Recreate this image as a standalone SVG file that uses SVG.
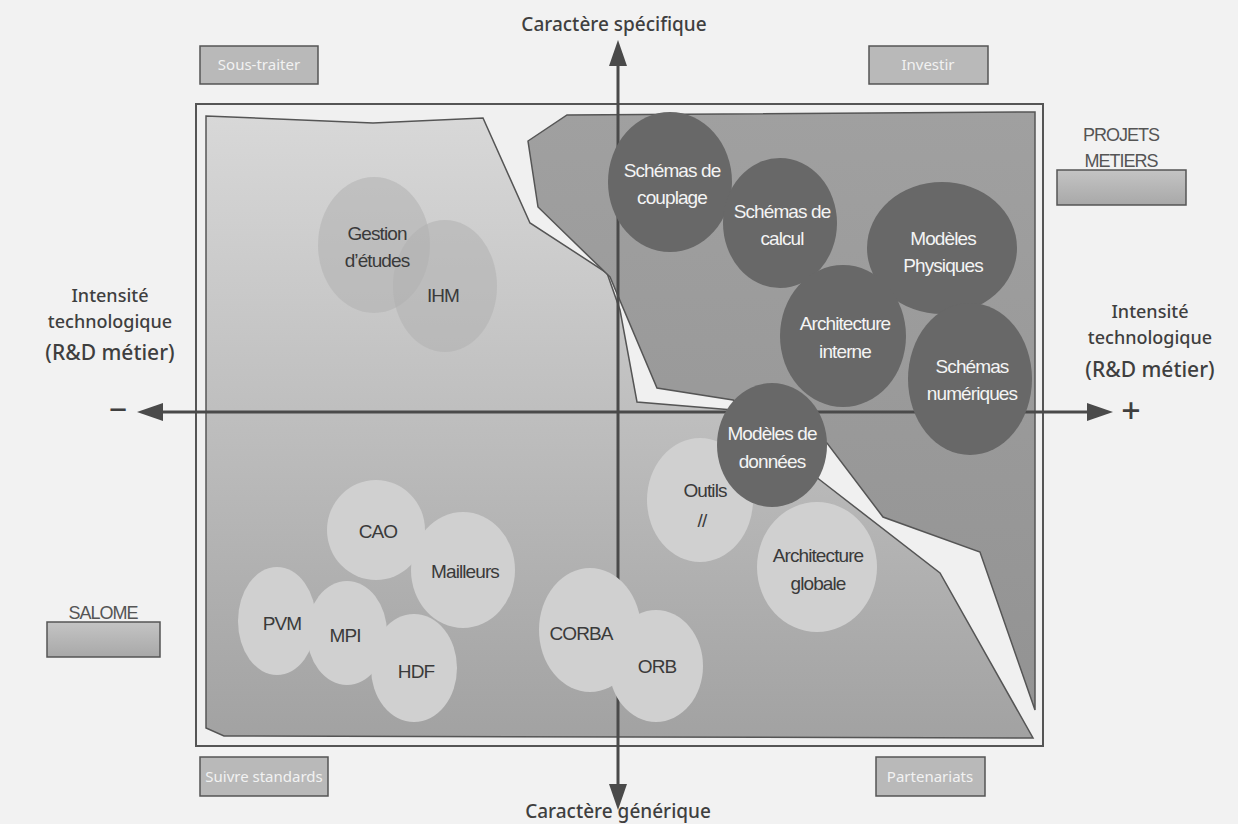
<svg xmlns="http://www.w3.org/2000/svg" width="1238" height="824" viewBox="0 0 1238 824">
<defs>
<style>
.bg{fill:#f2f2f2}
.frame{fill:#f0f0f0;stroke:#555;stroke-width:2}
.dk{fill:#686868}
.lt{fill:#d0d0d0}
.md{fill:#b0b0b0;fill-opacity:0.55}
.tw{font-family:"Liberation Sans",Arial,sans-serif;font-size:19px;fill:#f4f4f4;text-anchor:middle;letter-spacing:-0.9px}
.tb{font-family:"Liberation Sans",Arial,sans-serif;font-size:19px;fill:#3a3a3a;text-anchor:middle;letter-spacing:-0.9px}
.ax{font-family:"Noto Sans",sans-serif;font-size:19px;fill:#3f3f3f;text-anchor:middle;font-weight:500}
.side{font-family:"Noto Sans",sans-serif;font-size:18px;fill:#3f3f3f;text-anchor:middle;font-weight:500}
.big{font-size:21px}
.box{fill:#b9b9b9;stroke:#555;stroke-width:1.5}
.boxt{font-family:"Noto Sans",sans-serif;font-size:15px;fill:#f2f2f2;text-anchor:middle}
.leg{fill:url(#gleg);stroke:#555;stroke-width:1.5}
.legt{font-family:"Liberation Sans",Arial,sans-serif;font-size:18px;fill:#555;text-anchor:middle;letter-spacing:-1px}
.axis{stroke:#4a4a4a;stroke-width:3;fill:none}
.head{fill:#4a4a4a}
</style>
<linearGradient id="glight" gradientUnits="userSpaceOnUse" x1="0" y1="116" x2="0" y2="738">
<stop offset="0" stop-color="#d8d8d8"/>
<stop offset="0.45" stop-color="#c0c0c0"/>
<stop offset="1" stop-color="#a2a2a2"/>
</linearGradient>
<linearGradient id="gdark" gradientUnits="userSpaceOnUse" x1="0" y1="110" x2="0" y2="710">
<stop offset="0" stop-color="#a0a0a0"/>
<stop offset="1" stop-color="#939393"/>
</linearGradient>
<linearGradient id="gleg" x1="0" y1="0" x2="0" y2="1">
<stop offset="0" stop-color="#c4c4c4"/>
<stop offset="1" stop-color="#a8a8a8"/>
</linearGradient>
</defs>

<rect class="bg" x="0" y="0" width="1238" height="824"/>

<g id="frame">
<rect class="frame" x="196" y="104" width="847" height="642"/>
<polygon id="zone-generique" fill="url(#glight)" stroke="#555" stroke-width="1.5" points="206,116 373,123 483,118 530,223 607,273 620,310 637,402 733,410 820,480 940,573 1033,738 224,736 206,728"/>
<polygon id="zone-specifique" fill="url(#gdark)" stroke="#555" stroke-width="1.5" points="528,141 567,115 1035,112 1035,710 980,552 883,517 827,443 733,400 657,388 610,277 538,207"/>
</g>

<g id="n-gestion"><ellipse class="md" cx="374" cy="245" rx="56" ry="68"/></g>
<g id="n-ihm"><ellipse class="md" cx="445" cy="286" rx="52" ry="66"/></g>
<g id="t-gestion"><text class="tb" x="377" y="240">Gestion</text><text class="tb" x="377" y="267">d’études</text></g>
<g id="t-ihm"><text class="tb" x="443" y="302">IHM</text></g>

<g id="connectors">
<line class="axis" x1="618" y1="62" x2="618" y2="790"/>
<polygon class="head" points="618,40 609,66 627,66"/>
<polygon class="head" points="618,810 609,784 627,784"/>
<line class="axis" x1="160" y1="412" x2="1090" y2="412"/>
<polygon class="head" points="137,412 163,403 163,421"/>
<polygon class="head" points="1113,412 1087,403 1087,421"/>
</g>

<g id="n-couplage"><ellipse class="dk" cx="670" cy="182" rx="62" ry="70"/><text class="tw" x="672" y="177">Schémas de</text><text class="tw" x="672" y="204">couplage</text></g>
<g id="n-calcul"><ellipse class="dk" cx="780" cy="223" rx="57" ry="65"/><text class="tw" x="782" y="218">Schémas de</text><text class="tw" x="782" y="245">calcul</text></g>
<g id="n-physiques"><ellipse class="dk" cx="942" cy="248" rx="75" ry="66"/><text class="tw" x="943" y="245">Modèles</text><text class="tw" x="943" y="272">Physiques</text></g>
<g id="n-archi-interne"><ellipse class="dk" cx="843" cy="336" rx="63" ry="71"/><text class="tw" x="845" y="330">Architecture</text><text class="tw" x="845" y="358">interne</text></g>
<g id="n-numeriques"><ellipse class="dk" cx="970" cy="379" rx="62" ry="76"/><text class="tw" x="972" y="373">Schémas</text><text class="tw" x="972" y="400">numériques</text></g>

<g id="n-outils"><ellipse class="lt" cx="700" cy="500" rx="53" ry="62"/><text class="tb" x="705" y="497">Outils</text><text class="tb" x="702" y="527">//</text></g>
<g id="n-donnees"><ellipse class="dk" cx="772" cy="445" rx="55" ry="62"/><text class="tw" x="772" y="440">Modèles de</text><text class="tw" x="772" y="468">données</text></g>
<g id="n-archi-globale"><ellipse class="lt" cx="817" cy="567" rx="60" ry="65"/><text class="tb" x="818" y="562">Architecture</text><text class="tb" x="818" y="590">globale</text></g>

<g id="n-corba"><ellipse class="lt" cx="590" cy="630" rx="51" ry="62"/><text class="tb" x="581" y="640">CORBA</text></g>
<g id="n-orb"><ellipse class="lt" cx="656" cy="666" rx="47" ry="56"/><text class="tb" x="657" y="673">ORB</text></g>

<g id="n-cao"><ellipse class="lt" cx="376" cy="530" rx="49" ry="50"/><text class="tb" x="378" y="538">CAO</text></g>
<g id="n-mailleurs"><ellipse class="lt" cx="463" cy="570" rx="52" ry="58"/><text class="tb" x="465" y="578">Mailleurs</text></g>
<g id="n-pvm"><ellipse class="lt" cx="277" cy="621" rx="39" ry="54"/><text class="tb" x="282" y="630">PVM</text></g>
<g id="n-mpi"><ellipse class="lt" cx="347" cy="633" rx="40" ry="52"/><text class="tb" x="345" y="642">MPI</text></g>
<g id="n-hdf"><ellipse class="lt" cx="414" cy="668" rx="43" ry="54"/><text class="tb" x="416" y="678">HDF</text></g>

<g id="axis-labels">
<text class="ax" x="614" y="31">Caractère spécifique</text>
<text class="ax" x="618" y="818">Caractère générique</text>
<text class="side" x="110" y="302">Intensité</text>
<text class="side" x="110" y="328">technologique</text>
<text class="side big" x="110" y="360">(R&amp;D métier)</text>
<text class="side" x="1150" y="318">Intensité</text>
<text class="side" x="1150" y="344">technologique</text>
<text class="side big" x="1150" y="377">(R&amp;D métier)</text>
<text class="side" x="118" y="421" style="font-size:32px">−</text>
<text class="side" x="1131" y="423" style="font-size:34px">+</text>
</g>

<g id="q-soustraiter"><rect class="box" x="200" y="46" width="118" height="38"/><text class="boxt" x="259" y="70">Sous-traiter</text></g>
<g id="q-investir"><rect class="box" x="869" y="46" width="119" height="38"/><text class="boxt" x="928" y="70">Investir</text></g>
<g id="q-standards"><rect class="box" x="200" y="757" width="128" height="39"/><text class="boxt" x="264" y="782">Suivre standards</text></g>
<g id="q-partenariats"><rect class="box" x="876" y="757" width="109" height="39"/><text class="boxt" x="930" y="782">Partenariats</text></g>

<g id="legend-projets"><text class="legt" x="1121" y="141">PROJETS</text><text class="legt" x="1121" y="167">METIERS</text><rect class="leg" x="1057" y="170" width="129" height="35"/></g>
<g id="legend-salome"><text class="legt" x="103" y="619">SALOME</text><rect class="leg" x="47" y="622" width="113" height="35"/></g>
</svg>
